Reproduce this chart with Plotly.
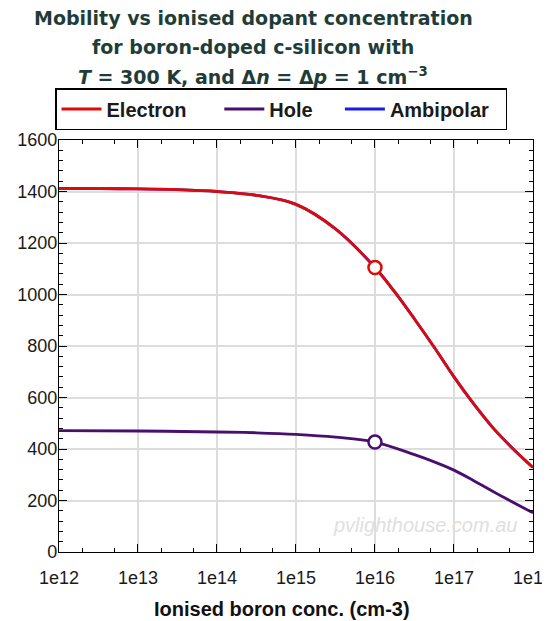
import plotly.graph_objects as go

# ---- data ----
e_logN = [12, 12.5, 13, 13.5, 14, 14.5, 15, 15.5, 16, 16.25, 16.5, 16.75, 17, 17.25, 17.5, 17.75, 18]
e_mob = [1412, 1411, 1410, 1407, 1400, 1385, 1350, 1255, 1105, 1010, 905, 795, 680, 575, 480, 400, 328]

h_logN = [12, 13, 14, 14.5, 15, 15.5, 16, 16.5, 16.75, 17, 17.25, 17.5, 18]
h_mob = [471, 470, 466, 463, 457, 446, 427, 378, 350, 318, 277, 234, 152]

marker_N = [1e16]
marker_e = [1105]
marker_h = [427]

tick_vals = [1e12, 1e13, 1e14, 1e15, 1e16, 1e17, 1e18]
tick_text = ["1e12", "1e13", "1e14", "1e15", "1e16", "1e17", "1e18"]

title_lines = [
    "Mobility vs ionised dopant concentration",
    "for boron-doped c-silicon with",
    "<i>T</i> = 300 K, and Δ<i>n</i> = Δ<i>p</i> = 1 cm<sup>−3</sup>",
]
x_title = "Ionised boron conc. (cm-3)"

e_N = [10 ** v for v in e_logN]
h_N = [10 ** v for v in h_logN]

RED = "#dd0a0a"
PURPLE = "#4a0f6e"
BLUE = "#1a1aee"

# page body has an 8px margin; positions below are screenshot pixels
OFF = 8
W, H = 550 - OFF, 621 - OFF
PLOT_L, PLOT_R, PLOT_T, PLOT_B = 59, 533, 140, 552
L = PLOT_L - OFF
T = PLOT_T - OFF
R = W - (PLOT_R - OFF)
B = H - (PLOT_B - OFF)
PW = PLOT_R - PLOT_L
PH = PLOT_B - PLOT_T


def px_to_paper_x(px):
    return (px - PLOT_L) / PW


def px_to_paper_y(py):
    return (PLOT_B - py) / PH


NB = "\u00a0"

fig = go.Figure()
fig.add_trace(go.Scatter(x=e_N, y=e_mob, mode="lines", name="Ambipolar" + NB * 2,
                         line=dict(color=BLUE, width=2.8, shape="spline"), legendrank=3))
fig.add_trace(go.Scatter(x=e_N, y=e_mob, mode="lines", name="Electron" + NB * 5,
                         line=dict(color=RED, width=2.8, shape="spline"), legendrank=1))
fig.add_trace(go.Scatter(x=h_N, y=h_mob, mode="lines", name="Hole" + NB * 4,
                         line=dict(color=PURPLE, width=2.8, shape="spline"), legendrank=2))
fig.add_trace(go.Scatter(x=marker_N, y=marker_e, mode="markers", showlegend=False,
                         marker=dict(symbol="circle", size=13, color="white",
                                     line=dict(color=RED, width=2.5))))
fig.add_trace(go.Scatter(x=marker_N, y=marker_h, mode="markers", showlegend=False,
                         marker=dict(symbol="circle", size=13, color="white",
                                     line=dict(color=PURPLE, width=2.5))))

fig.update_layout(
    width=W, height=H,
    margin=dict(l=L, r=R, t=T, b=B, autoexpand=False),
    paper_bgcolor="white", plot_bgcolor="white",
    font=dict(family="Liberation Sans, Arial", size=18, color="#1a1a1a"),
    legend=dict(
        orientation="h", x=px_to_paper_x(281), xanchor="center",
        y=px_to_paper_y(88), yanchor="top",
        bordercolor="black", borderwidth=1.5, bgcolor="white",
        font=dict(family="Liberation Sans, Arial", size=20, color="#1a1a1a", weight="bold"),
        traceorder="normal", itemwidth=40,
    ),
    showlegend=True,
)

fig.update_xaxes(
    type="log", range=[12, 18.0005], tickvals=tick_vals, ticktext=tick_text,
    showgrid=True, gridcolor="#dddddd", gridwidth=1.5,
    showline=True, linecolor="black", linewidth=1.2, mirror="allticks",
    ticks="inside", ticklen=8, tickcolor="black",
    minor=dict(ticks="inside", ticklen=4, tickcolor="black", showgrid=False),
    zeroline=False, ticklabeloverflow="allow", ticklabelstandoff=9,
    tickfont=dict(size=18),
)
fig.update_yaxes(
    range=[0, 1600], dtick=200,
    showgrid=True, gridcolor="#dddddd", gridwidth=1.5,
    showline=True, linecolor="black", linewidth=1.2, mirror="allticks",
    ticks="inside", ticklen=8, tickcolor="black",
    minor=dict(ticks="inside", ticklen=4, tickcolor="black", dtick=40, showgrid=False),
    zeroline=False, tickfont=dict(size=18), ticklabelstandoff=-3,
)

for txt, ypx in zip(title_lines, [18, 47, 76]):
    fig.add_annotation(text=txt, xref="paper", yref="paper",
                       x=px_to_paper_x(253), y=px_to_paper_y(ypx),
                       xanchor="center", yanchor="middle", showarrow=False,
                       font=dict(family="DejaVu Sans", size=19, color="#1f3d38", weight="bold"))

fig.add_annotation(text=x_title, xref="paper", yref="paper",
                   x=px_to_paper_x(282), y=px_to_paper_y(609),
                   xanchor="center", yanchor="middle", showarrow=False,
                   font=dict(family="Liberation Sans, Arial", size=20, weight="bold", color="#111"))

fig.add_annotation(text="pvlighthouse.com.au", xref="paper", yref="paper",
                   x=px_to_paper_x(519), y=px_to_paper_y(525), xanchor="right", yanchor="middle",
                   showarrow=False,
                   font=dict(family="Liberation Sans, Arial", size=20, color="#e0e0e0", style="italic"))

fig.write_html("out.html")
